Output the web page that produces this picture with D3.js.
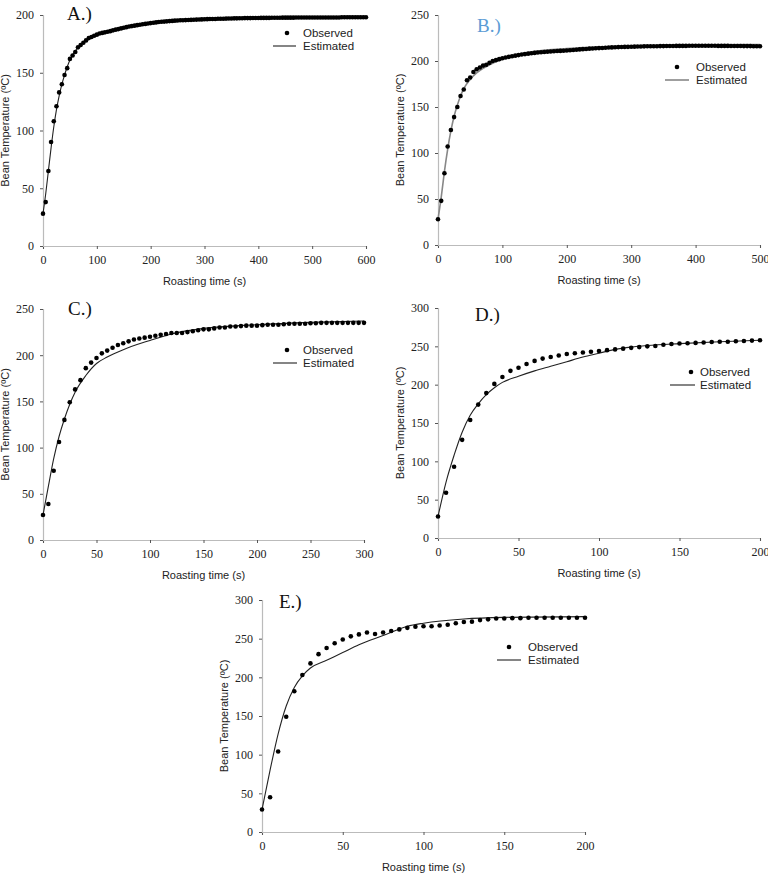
<!DOCTYPE html>
<html>
<head>
<meta charset="utf-8">
<script src="https://cdn.jsdelivr.net/npm/d3@7"></script>
<style>
  body { margin: 0; background: #fff; }
  svg { display: block; }
</style>
</head>
<body>
<svg id="chart" width="768" height="873"></svg>
<script>
// observed bean temperature, one reading every 5 s
var obsA = [28,38,65,90,108,121,133,140,148,154,162,165,168,172,174,176,178,180,181,182,183,
  184,184.5,185,185.5,186,186.7,187.3,187.8,188.4,189,189.5,190,190.4,190.8,191.2,191.6,192,192.3,192.7,193,
  193.3,193.6,193.9,194.1,194.3,194.5,194.7,194.9,195.1,195.3,195.4,195.5,195.6,195.7,195.8,195.9,196,196.1,196.2,196.3,
  196.4,196.5,196.6,196.6,196.7,196.8,196.8,196.9,197,197,197.1,197.1,197.2,197.2,197.3,197.3,197.3,197.4,197.4,197.4,
  197.5,197.5,197.5,197.5,197.6,197.6,197.6,197.6,197.7,197.7,197.7,197.7,197.7,197.8,197.8,197.8,197.8,197.8,197.8,197.9,
  197.9,197.9,197.9,197.9,197.9,197.9,197.9,197.9,197.9,197.9,198,198,198,198,198,198,198,198,198,198];
var obsB = [28,48,78,107,125,139,150,162,169,179,182,188,191,193,195,196,198,200,201,202,203,
  203.8,204.5,205.2,205.8,206.4,207,207.5,208,208.4,208.8,209.2,209.5,209.8,210.1,210.4,210.6,210.8,211,211.2,211.4,
  211.7,212,212.3,212.6,212.9,213.1,213.4,213.6,213.8,214,214.2,214.4,214.6,214.8,215,215.1,215.2,215.3,215.4,215.5,
  215.6,215.7,215.8,215.9,216,216,216.1,216.1,216.2,216.2,216.3,216.3,216.3,216.4,216.4,216.4,216.4,216.5,216.5,216.5,
  216.5,216.5,216.5,216.5,216.5,216.5,216.4,216.4,216.4,216.4,216.3,216.3,216.3,216.3,216.2,216.2,216.2,216.1,216.1,216];
var obsC = [27,39,75,106,130,149,163,173,186,192,197,202,205,208,211,213,215,217,218,219,220,
  221,222,223,224,224,224,225,226,227,228,228,229,230,230,231,231,231.5,232,232,232,
  232.5,233,233,233,233.5,234,234,234,234,234.5,234.5,235,235,235,235,235,235,235,235,235];
var obsD = [28,59,93,128,154,174,189,201,210,218,222,227,231,234,236,238,240,241,242,243,244,
  245,246,247,248,249,250,250.5,252,253,253.6,254,254.5,255,255.7,256,256,256.6,257,257.5,258];
var obsE = [29,45,104,149,182,203,218,230,238,244,249,253,255.5,258,256,258,260,262,264,265.5,266,
  266,267,268,270,271.5,272,274,275,276,276,276.5,276.5,277,277,277,277,277,277,277,277];

// model estimates as [time, temperature]
var estA = [[0,28],[5,45],[10,65],[15,85],[20,103],[25,118],[30,130],[35,140],[40,148],[50,161],[60,169],
  [70,174],[80,178],[100,182.5],[150,189],[200,193],[300,196],[400,197.3],[500,197.8],[600,198]];
var estB = [[0,28],[5,52],[10,80],[15,104],[20,124],[25,140],[30,152],[35,162],[40,170],[50,180],[60,187],
  [70,192],[80,196],[100,202],[125,207],[150,210.5],[200,213.5],[250,215],[300,216],[400,217.3],[500,218]];
var estC = [[0,27],[5,58],[10,88],[15,112],[20,131],[25,147],[30,160],[40,178],[50,191],[60,198],[75,206],
  [100,216],[120,223],[150,229],[200,233],[250,235.5],[300,237]];
var estD = [[0,28],[5,73],[10,108],[15,138],[20,160],[25,175],[30,187],[35,196],[40,203],[50,211],[60,218],
  [70,224],[80,230],[90,236],[100,241],[110,246],[120,249],[130,251],[150,253.5],[175,256],[200,258]];
var estE = [[0,29],[5,80],[10,127],[15,163],[20,187],[25,202],[30,212],[40,222],[50,232],[60,242],[75,254],
  [90,266],[100,270],[125,275.5],[150,277.5],[200,278.5]];

var xMax = [600, 500, 300, 200, 200];
var yMax = [200, 250, 250, 300, 300];
var xStep = [100, 100, 50, 50, 50];
var labels = ["A.)", "B.)", "C.)", "D.)", "E.)"];

var svg = d3.select("#chart");

var panels = [
  {obs: obsA, est: estA, left: 43, right: 366, top: 15, bottom: 246, lab: [67, 20], leg: [287, 303, 273, 296, 33], estColor: "#222"},
  {obs: obsB, est: estB, left: 438, right: 760, top: 15, bottom: 245, lab: [477, 32], leg: [677, 696, 665, 689, 67], estColor: "#888", labColor: "#5b9bd5"},
  {obs: obsC, est: estC, left: 43, right: 364, top: 309, bottom: 540, lab: [68, 315], leg: [287, 303, 273, 297, 350], estColor: "#222"},
  {obs: obsD, est: estD, left: 438, right: 760, top: 308, bottom: 538, lab: [475, 321], leg: [691, 700, 670, 695, 372], estColor: "#222"},
  {obs: obsE, est: estE, left: 262, right: 585, top: 600, bottom: 832, lab: [279, 608], leg: [509, 528, 497, 521, 647], estColor: "#222"}
];

panels.forEach(function(p, i){
  var x = d3.scaleLinear().domain([0, xMax[i]]).range([p.left, p.right]);
  var y = d3.scaleLinear().domain([0, yMax[i]]).range([p.bottom, p.top]);
  var g = svg.append("g");

  // axes
  var xAxis = d3.axisBottom(x).tickValues(d3.range(0, xMax[i] + 1, xStep[i])).tickSize(3).tickPadding(6);
  var yAxis = d3.axisLeft(y).tickValues(d3.range(0, yMax[i] + 1, 50)).tickSize(3).tickPadding(6);
  var gx = g.append("g").attr("transform", "translate(0," + p.bottom + ")").call(xAxis);
  var gy = g.append("g").attr("transform", "translate(" + p.left + ",0)").call(yAxis);
  [gx, gy].forEach(function(a){
    a.select(".domain").attr("stroke", "#bbb").attr("stroke-width", 1.2);
    a.selectAll(".tick line").attr("stroke", "#555");
    a.selectAll(".tick text")
      .style("font-family", "'Liberation Serif', 'Times New Roman', serif")
      .style("font-size", "12px")
      .attr("fill", "#222");
  });

  g.append("text")
    .attr("x", (p.left + p.right) / 2)
    .attr("y", p.bottom + 39)
    .attr("text-anchor", "middle")
    .style("font-family", "'Liberation Sans', Arial, sans-serif")
    .style("font-size", "11px")
    .attr("fill", "#222")
    .text("Roasting time (s)");

  g.append("text")
    .attr("transform", "translate(" + (p.left - 34) + "," + ((p.top + p.bottom) / 2) + ") rotate(-90)")
    .attr("text-anchor", "middle")
    .style("font-family", "'Liberation Sans', Arial, sans-serif")
    .style("font-size", "11px")
    .attr("fill", "#222")
    .text("Bean Temperature (ºC)");

  g.append("text")
    .attr("x", p.lab[0])
    .attr("y", p.lab[1])
    .style("font-family", "'Liberation Serif', 'Times New Roman', serif")
    .style("font-size", "19px")
    .attr("fill", p.labColor || "#111")
    .text(labels[i]);

  // estimated curve
  var line = d3.line()
    .x(function(d){ return x(d[0]); })
    .y(function(d){ return y(d[1]); })
    .curve(d3.curveMonotoneX);
  g.append("path")
    .datum(p.est)
    .attr("d", line)
    .attr("fill", "none")
    .attr("stroke", p.estColor)
    .attr("stroke-width", i == 1 ? 1.6 : 1.1);

  // observed points
  g.selectAll("circle.obs")
    .data(p.obs)
    .enter()
    .append("circle")
    .attr("class", "obs")
    .attr("cx", function(d, k){ return x(k * 5); })
    .attr("cy", function(d){ return y(d); })
    .attr("r", 2.3)
    .attr("fill", "#000");

  // legend
  var leg = p.leg;
  g.append("circle").attr("cx", leg[0]).attr("cy", leg[4]).attr("r", 2.3).attr("fill", "#000");
  g.append("line")
    .attr("x1", leg[2]).attr("x2", leg[3])
    .attr("y1", leg[4] + 13).attr("y2", leg[4] + 13)
    .attr("stroke", p.estColor)
    .attr("stroke-width", i == 1 ? 1.6 : 1.1);
  g.selectAll("text.leg")
    .data(["Observed", "Estimated"])
    .enter()
    .append("text")
    .attr("class", "leg")
    .attr("x", leg[1])
    .attr("y", function(d, k){ return leg[4] + 4 + k * 13; })
    .style("font-family", "'Liberation Sans', Arial, sans-serif")
    .style("font-size", "11.5px")
    .attr("fill", "#222")
    .text(function(d){ return d; });
});
</script>
</body>
</html>
